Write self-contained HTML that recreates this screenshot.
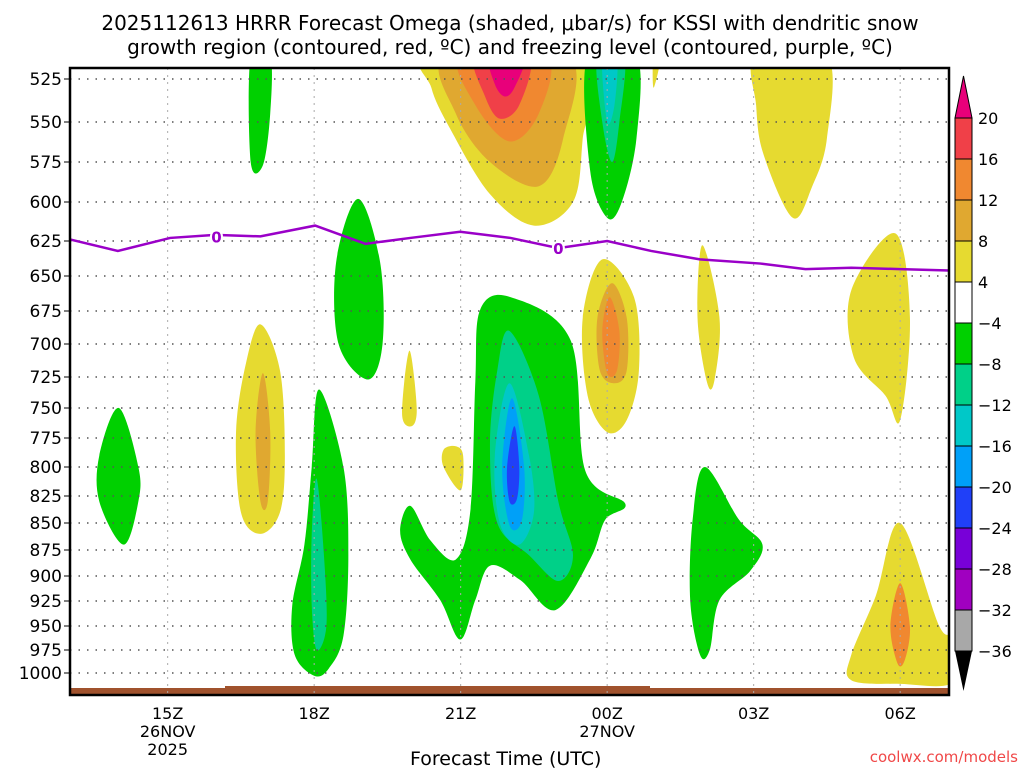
<!DOCTYPE html>
<html><head><meta charset="utf-8"><style>
body{margin:0;background:#fff;}
svg{display:block;font-family:"DejaVu Sans","Liberation Sans",sans-serif;}
</style></head><body>
<svg id="chart" width="1024" height="768" viewBox="0 0 1024 768">
<text x="510" y="30" font-size="20" text-anchor="middle">2025112613 HRRR Forecast Omega (shaded, μbar/s) for KSSI with dendritic snow</text>
<text x="510" y="54" font-size="20" text-anchor="middle">growth region (contoured, red, ºC) and freezing level (contoured, purple, ºC)</text>
<g id="fills"></g>
<g id="grid"></g>
<g id="frz"></g>
<g id="axes"></g>
<g id="cbar"></g>
<text x="410" y="765" font-size="19">Forecast Time (UTC)</text>
<text x="1018" y="762" font-size="15" fill="#f04848" text-anchor="end">coolwx.com/models</text>
</svg>
<script>
const presTicks=[525,550,575,600,625,650,675,700,725,750,775,800,825,850,875,900,925,950,975,1000];
const presY=[79,122,162,202,241,276,311,344,377,408,438,467,496,523,550,576,601,626,650,673];
const timeTicks=[15,18,21,24,27,30];
const timeLabels=["15Z","18Z","21Z","00Z","03Z","06Z"];
const dateLabels=[["26NOV","2025"],[],[],["27NOV"],[],[]];
const cbLevels=[20,16,12,8,4,-4,-8,-12,-16,-20,-24,-28,-32,-36];
const cbColors=["#f04048","#f08830","#e0a830","#e6da30","#ffffff","#00d000","#00d088","#00c8c8","#00a0f8","#2040f8","#7800d8","#a000c0","#a8a8a8"];
const frzHours=[13,13.98,15.05,15.97,16.9,18.02,19.05,19.97,20.99,22.02,23.0,24.0,24.9,25.9,27.14,28.06,29.0,30.0,31.0];
const frzPres=[624,632,623,621,622,615,627,623,619,623,630,625,632,638,641,645,644,645,646];
// omega contour regions: [color, [[hour,pressure],...]]
const regions=[
["#00d000",[[14.0,750],[14.4,800],[14.4,830],[14.1,870],[13.6,830],[13.6,790]]],
["#00d000",[[16.7,512],[17.1,512],[17.1,545],[16.95,577],[16.7,575]]],
["#e6da30",[[16.9,685],[17.3,720],[17.4,790],[17.3,840],[16.9,860],[16.5,840],[16.4,770],[16.6,715]]],
["#e0a830",[[16.95,722],[17.1,770],[17.05,830],[16.9,830],[16.8,770]]],
["#00d000",[[18.1,735],[18.6,800],[18.7,880],[18.6,960],[18.3,995],[18.0,1003],[17.6,980],[17.55,930],[17.8,870],[17.95,800]]],
["#00d088",[[18.05,810],[18.2,880],[18.25,950],[18.05,975],[17.95,930],[17.95,860]]],
["#00d000",[[18.9,598],[19.35,640],[19.4,700],[19.1,727],[18.5,700],[18.45,640]]],
["#e6da30",[[19.95,705],[20.1,750],[20.0,765],[19.8,755]]],
["#e6da30",[[20.9,782],[21.05,790],[21.0,820],[20.65,800],[20.65,785]]],
["#00d000",[[22.02,665],[23.25,697],[23.55,803],[24.37,832],[23.96,847],[23.66,883],[22.94,934],[22.22,904],[21.6,890],[21.3,924],[20.99,964],[20.58,924],[19.97,884],[19.76,857],[19.97,834],[20.38,866],[20.9,884],[21.2,838],[21.3,729],[21.4,674]]],
["#00d088",[[22.0,690],[22.6,740],[23.0,830],[23.3,880],[23.0,905],[22.4,880],[21.75,850],[21.6,780],[21.75,720]]],
["#00c8c8",[[22.0,730],[22.4,790],[22.5,840],[22.2,870],[21.8,850],[21.7,790]]],
["#00a0f8",[[22.05,742],[22.3,800],[22.25,848],[22.0,852],[21.85,800]]],
["#2040f8",[[22.1,765],[22.2,800],[22.15,828],[22.0,830],[21.95,800]]],
["#e6da30",[[20.4,512],[23.6,512],[23.5,560],[23.3,600],[22.5,615],[21.6,595],[20.8,555],[20.4,530]]],
["#e0a830",[[20.7,512],[23.2,512],[23.1,560],[22.6,590],[21.6,575],[20.9,545]]],
["#f08830",[[21.0,512],[22.75,512],[22.6,545],[22.0,562],[21.3,540]]],
["#f04048",[[21.3,512],[22.4,512],[22.2,540],[21.8,548],[21.5,535]]],
["#e8007a",[[21.6,512],[22.3,512],[22.1,530],[21.9,535],[21.7,528]]],
["#00d000",[[23.6,512],[24.6,512],[24.6,560],[24.3,600],[24.0,610],[23.65,580]]],
["#00d088",[[23.8,512],[24.35,512],[24.25,550],[24.1,575],[23.9,550]]],
["#00c8c8",[[23.9,512],[24.2,512],[24.15,540],[24.0,550]]],
["#e6da30",[[24.95,512],[25.1,512],[24.95,530]]],
["#e6da30",[[23.9,638],[24.55,665],[24.65,720],[24.4,760],[24.0,770],[23.6,740],[23.5,680]]],
["#e0a830",[[24.1,655],[24.4,680],[24.4,720],[24.15,730],[23.85,720],[23.8,680]]],
["#f08830",[[24.05,665],[24.25,690],[24.2,720],[24.0,722],[23.9,690]]],
["#e6da30",[[25.95,628],[26.3,680],[26.2,727],[26.05,730],[25.85,680]]],
["#e6da30",[[27.05,512],[28.5,512],[28.5,560],[28.2,590],[27.8,610],[27.2,570],[27.05,540]]],
["#e6da30",[[29.9,620],[30.2,680],[30.0,760],[29.7,740],[29.05,710],[29.0,660]]],
["#00d000",[[26.0,800],[26.7,847],[27.18,870],[26.93,895],[26.3,924],[26.1,975],[25.9,980],[25.7,924],[25.75,847]]],
["#e6da30",[[30.0,850],[30.8,950],[31.1,960],[31.1,1010],[30.0,1012],[29.0,1008],[29.0,980],[29.5,920]]],
["#f08830",[[30.0,907],[30.2,950],[30.1,985],[29.95,990],[29.8,950]]]
];
const NS="http://www.w3.org/2000/svg";
const X0=70,X1=949,Y0=68,Y1=695,H0=13,H1=31;
function xs(h){return X0+(h-H0)*(X1-X0)/(H1-H0);}
function ys(p){
  const a=presTicks,b=presY;
  let i=0; if(p<=a[0]) i=0; else if(p>=a[a.length-1]) i=a.length-2; else while(p>a[i+1]) i++;
  const l0=Math.log(a[i]),l1=Math.log(a[i+1]);
  return b[i]+(Math.log(p)-l0)/(l1-l0)*(b[i+1]-b[i]);
}
function el(t,at,parent){const e=document.createElementNS(NS,t);for(const k in at)e.setAttribute(k,at[k]);parent.appendChild(e);return e;}
function smooth(pts){
  const n=pts.length;let d="M"+pts[0][0]+","+pts[0][1];
  for(let i=0;i<n;i++){
    const p0=pts[(i-1+n)%n],p1=pts[i],p2=pts[(i+1)%n],p3=pts[(i+2)%n];
    const c1=[p1[0]+(p2[0]-p0[0])/6,p1[1]+(p2[1]-p0[1])/6];
    const c2=[p2[0]-(p3[0]-p1[0])/6,p2[1]-(p3[1]-p1[1])/6];
    d+=" C"+c1[0]+","+c1[1]+" "+c2[0]+","+c2[1]+" "+p2[0]+","+p2[1];
  }
  return d+"Z";
}
const svg=document.getElementById('chart');
const defs=el('defs',{},svg);
const cp=el('clipPath',{id:'pc'},defs);
el('rect',{x:X0,y:Y0,width:X1-X0,height:Y1-Y0},cp);
const fills=document.getElementById('fills');
fills.setAttribute('clip-path','url(#pc)');
regions.forEach((r,i)=>{
  const pts=r[1].map(q=>[xs(q[0]),ys(q[1])]);
  const p=el('path',{d:smooth(pts),fill:r[0]},fills);
  
  
});
const g1=el('rect',{x:X0,y:688,width:X1-X0,height:7,fill:'#a0522d'},fills);


const g2=el('rect',{x:225,y:686,width:425,height:4,fill:'#a0522d'},fills);


const grid=document.getElementById('grid');
presTicks.forEach((p,i)=>{
  const y=ys(p);
  el('line',{x1:X0,x2:X1,y1:y,y2:y,stroke:'#555','stroke-width':1.5,'stroke-dasharray':'1.5 7'},grid);
  const t=el('text',{x:62,y:y+6,'font-size':17,'text-anchor':'end'},document.getElementById('axes'));
  t.textContent=p;
  
  
  el('line',{x1:X0-6,x2:X0,y1:y,y2:y,stroke:'#000'},grid);
});
timeTicks.forEach((h,i)=>{
  const x=xs(h);
  el('line',{x1:x,x2:x,y1:Y0,y2:Y1,stroke:'#aaa','stroke-width':1,'stroke-dasharray':'2 5'},grid);
  const ax=document.getElementById('axes');
  const t=el('text',{x:x,y:719,'font-size':16,'text-anchor':'middle'},ax);
  t.textContent=timeLabels[i];
  
  
  dateLabels[i].forEach((s,j)=>{
    const d=el('text',{x:x,y:737+j*18,'font-size':16,'text-anchor':'middle'},ax);
    d.textContent=s;
    
    
  });
});
const frz=document.getElementById('frz');
const fl=el('polyline',{points:frzHours.map((h,i)=>xs(h)+","+ys(frzPres[i])).join(" "),fill:'none',stroke:'#9a00c8','stroke-width':2.5},frz);


[16,23].forEach(h=>{
  const i=frzHours.findIndex(v=>v>=h);const y=ys(frzPres[i]);
  const t=el('text',{x:xs(h),y:y+6,'font-size':15,'font-weight':'bold',fill:'#9a00c8','text-anchor':'middle',stroke:'#fff','stroke-width':4,'paint-order':'stroke'},frz);
  t.textContent='0';
  
  
});
el('rect',{x:X0,y:Y0,width:X1-X0,height:Y1-Y0,fill:'none',stroke:'#000','stroke-width':2.5},document.getElementById('axes'));
const cb=document.getElementById('cbar');
const CX=955,CW=17,CT=118,CS=(651-118)/13;
el('polygon',{points:`${CX},${CT} ${CX+CW},${CT} ${CX+CW/2},${CT-42}`,fill:'#e8007a',stroke:'#000'},cb);
cbColors.forEach((c,i)=>{
  const r=el('rect',{x:CX,y:CT+i*CS,width:CW,height:CS,fill:c,stroke:'#000','stroke-width':1},cb);
  
  
});
el('polygon',{points:`${CX},${CT+13*CS} ${CX+CW},${CT+13*CS} ${CX+CW/2},${CT+13*CS+40}`,fill:'#000'},cb);
cbLevels.forEach((v,i)=>{
  const t=el('text',{x:978,y:CT+i*CS+6,'font-size':16},cb);
  t.textContent=v<0?'−'+(-v):v;
  
  
});
</script>
</body></html>
